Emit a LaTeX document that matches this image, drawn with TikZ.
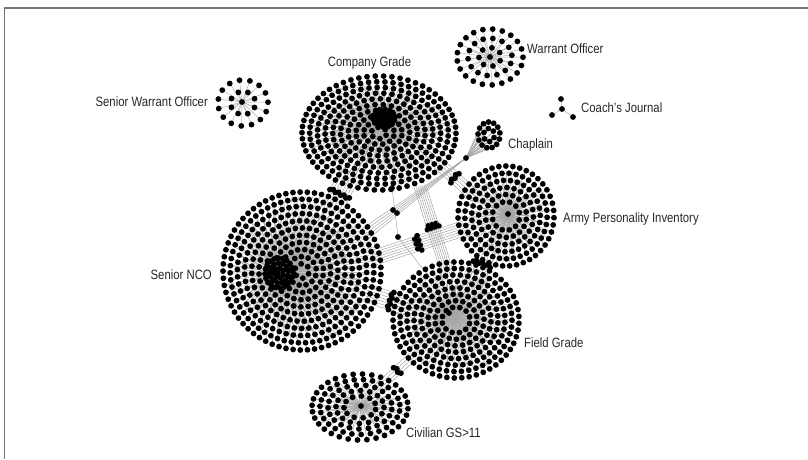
\documentclass[tikz,border=0pt]{standalone}
\usepackage{fontspec}
\setmainfont{Liberation Sans}
\usetikzlibrary{calc,positioning}

\tikzset{
  spoke/.style={draw=black!35, line width=0.45pt},
  link/.style={draw=black!35, line width=0.5pt},
  lbl/.style={font=\fontsize{13.5}{15}\selectfont, text=black!85, inner sep=0pt},
  frame/.style={draw=black!55, line width=1.2pt},
}
\newcommand{\dotr}{2.9}
\newcommand{\narrow}[1]{\scalebox{0.84}[1]{#1}}

% rings of dots round a hub: hub, cx, cy, rx, ry, first ring, last ring, spacing
\newcommand{\cluster}[8]{
  \foreach \j in {#6,...,#7}{
    \pgfmathtruncatemacro\n{max(3,round(3.1416*\j*(#4+#5)/#7/#8))}
    \foreach \i in {1,...,\n}{
      \pgfmathsetmacro\t{360/\n*\i+23*\j}
      \draw[spoke] (#1) -- ({#2+#4*\j/#7*cos(\t)},{#3+#5*\j/#7*sin(\t)});
    }
  }
  \foreach \j in {#6,...,#7}{
    \pgfmathtruncatemacro\n{max(3,round(3.1416*\j*(#4+#5)/#7/#8))}
    \foreach \i in {1,...,\n}{
      \pgfmathsetmacro\t{360/\n*\i+23*\j}
      \fill ({#2+#4*\j/#7*cos(\t)},{#3+#5*\j/#7*sin(\t)}) circle [radius=\dotr];
    }
  }
  \fill (#1) circle [radius=\dotr];
}

% parallel links with a dot on each: from, to, offsets, position of dots
\newcommand{\bundle}[4]{
  \foreach \o [count=\c] in {#3}{
    \pgfmathsetmacro\fr{#4+0.035*mod(\c,2)}
    \path ($(#1)!\o pt!90:(#2)$) coordinate (bp) ($(#2)!\o pt!-90:(#1)$) coordinate (bq);
    \draw[link] (bp) -- (bq);
    \fill ($(bp)!\fr!(bq)$) circle [radius=\dotr];
  }
}

\begin{document}
\begin{tikzpicture}[x=1pt,y=-1pt]
    \useasboundingbox (0,0) rectangle (808,459);
    \draw[frame] (4.5,459) -- (4.5,8) -- (808,8);

    % hubs
    \coordinate (cg) at (384,118);
    \coordinate (nco) at (278,273);
    \coordinate (fg) at (449,313);
    \coordinate (api) at (508,214);
    \coordinate (civ) at (361,406);
    \coordinate (wo) at (490,57);
    \coordinate (swo) at (242,102);
    \coordinate (ch) at (466,158);
    \coordinate (cj) at (562,109);

    % links between the groups
    \coordinate (cgnA) at (351,172);
    \coordinate (cgnB) at (329,214);
    \bundle{cgnA}{cgnB}{-10.5,-7.5,-4.5,-1.5,1.5,4.5,7.5,10.5}{0.5}
    \coordinate (nfA) at (366,293);
    \coordinate (nfB) at (413,308);
    \bundle{nfA}{nfB}{-9,-6,-3,0,3,6,9}{0.5}
    \coordinate (afA) at (490,243);
    \coordinate (afB) at (473,287);
    \bundle{afA}{afB}{-9,-6,-3,0,3,6,9}{0.45}
    \coordinate (fcA) at (413,356);
    \coordinate (fcB) at (377,389);
    \bundle{fcA}{fcB}{-4.5,-1.5,1.5,4.5}{0.42}
    \coordinate (caA) at (438,163);
    \coordinate (caB) at (477,198);
    \bundle{caA}{caB}{-6,-3,0,3,6}{0.4}
    \coordinate (cfA) at (420,186);
    \coordinate (cfB) at (449,278);
    \bundle{cfA}{cfB}{-6,-4,-2,0,2,4,6}{0.42}
    \coordinate (naA) at (373,258);
    \coordinate (naB) at (465,228);
    \bundle{naA}{naB}{-7.5,-5,-2.5,0,2.5,5,7.5}{0.47}

    \coordinate (chn) at (365,234);
    \foreach \o in {-6,-3,0,3,6}{
        \draw[link] (ch) -- ($(chn)!\o pt!90:(ch)$);
    }
    \coordinate (cgd) at (392,188);
    \coordinate (m1) at (395,212);
    \coordinate (m2) at (398,237);
    \coordinate (fgt) at (430,278);
    \draw[link] (cgd) -- (m1) -- (m2) -- (fgt);
    \fill (cgd) circle [radius=\dotr];
    \fill (393,210) circle [radius=\dotr];
    \fill (397,213) circle [radius=\dotr];
    \fill (m2) circle [radius=\dotr];

    % groups
    \cluster{cg}{379}{133}{77}{57}{1}{10}{7.2}
    \cluster{cg}{384}{118}{11}{9}{1}{3}{4.5}
    \cluster{nco}{302}{271}{79}{79}{1}{11}{7.2}
    \cluster{nco}{279}{273}{14}{15}{1}{3}{4.5}
    \cluster{fg}{456}{320}{63}{58}{2}{9}{7.2}
    \cluster{api}{506}{216}{48}{50}{2}{7}{7.2}
    \cluster{civ}{360}{407}{48}{33}{2}{6}{8}
    \cluster{wo}{490}{57}{33}{28}{1}{3}{9}
    \cluster{swo}{243}{103}{25}{23}{1}{2}{10}
    \cluster{ch}{489}{135}{11}{13}{1}{2}{6}

    % coach's journal
    \foreach \p in {(561,99),(552,115),(573,117)}{
        \draw[spoke] (cj) -- \p;
        \fill \p circle [radius=\dotr];
    }
    \fill (cj) circle [radius=\dotr];

    % labels
    \node[lbl] (cgl) at (369.5,63) {\narrow{Company Grade}};
    \node[lbl, anchor=west] (wol) at (527,49) {\narrow{Warrant Officer}};
    \node[lbl, anchor=east] (swol) at (208,102) {\narrow{Senior Warrant Officer}};
    \node[lbl, anchor=west] (cjl) at (581,108) {\narrow{Coach’s Journal}};
    \node[lbl, anchor=west] (chl) at (508,145) {\narrow{Chaplain}};
    \node[lbl, anchor=west] (apil) at (563,219) {\narrow{Army Personality Inventory}};
    \node[lbl, anchor=east] (ncol) at (212,275) {\narrow{Senior NCO}};
    \node[lbl, anchor=west] (fgl) at (524,343) {\narrow{Field Grade}};
    \node[lbl, anchor=west] (civl) at (406,433) {\narrow{Civilian GS>11}};
\end{tikzpicture}
\end{document}
